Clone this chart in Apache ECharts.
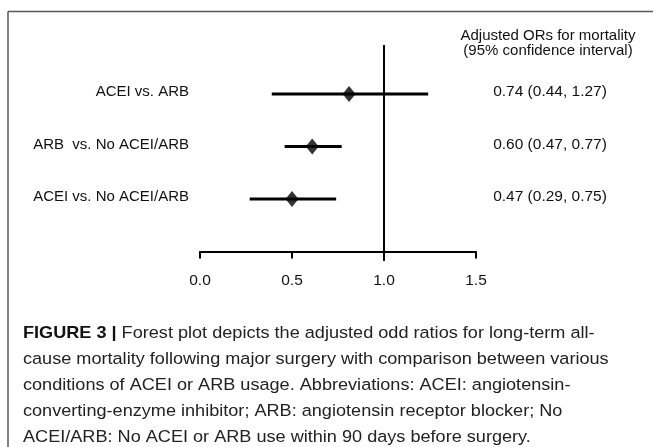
<!DOCTYPE html>
<html>
<head>
<meta charset="utf-8">
<script src="https://cdn.jsdelivr.net/npm/echarts@6/dist/echarts.min.js"></script>
<style>
html,body{margin:0;padding:0;background:#fff;}
#chart{width:653px;height:447px;}
</style>
</head>
<body>
<div id="chart"></div>
<script>
// ---- data ----
var categories = ['ACEI vs. ARB', 'ARB  vs. No ACEI/ARB', 'ACEI vs. No ACEI/ARB'];
var rowPos = [3, 2, 1];
var pointEst = [0.81, 0.61, 0.50];
var ciLow = [0.39, 0.46, 0.27];
var ciHigh = [1.24, 0.77, 0.74];
var orText = ['0.74 (0.44, 1.27)', '0.60 (0.47, 0.77)', '0.47 (0.29, 0.75)'];
var xTicks = [0, 0.5, 1.0, 1.5];
var headerLines = ['Adjusted ORs for mortality', '(95% confidence interval)'];
var captionBold = 'FIGURE 3 | ';
var captionLines = [
  'Forest plot depicts the adjusted odd ratios for long-term all-',
  'cause mortality following major surgery with comparison between various',
  'conditions of ACEI or ARB usage. Abbreviations: ACEI: angiotensin-',
  'converting-enzyme inhibitor; ARB: angiotensin receptor blocker; No',
  'ACEI/ARB: No ACEI or ARB use within 90 days before surgery.'
];

var FONT = '"Liberation Sans", Arial, sans-serif';

var chart = echarts.init(document.getElementById('chart'), null, {renderer: 'canvas'});

var ciData = rowPos.map(function (y, i) { return [ciLow[i], ciHigh[i], y]; });
var ptData = rowPos.map(function (y, i) { return [pointEst[i], y]; });
var labelData = rowPos.map(function (y, i) { return [0, y, i]; });

var graphics = [
  {type: 'line', shape: {x1: 8, y1: 11.5, x2: 653, y2: 11.5}, style: {stroke: '#5a5a5a', lineWidth: 1.5}},
  {type: 'line', shape: {x1: 8, y1: 11.5, x2: 8, y2: 447}, style: {stroke: '#5a5a5a', lineWidth: 1.5}},
  {type: 'text', x: 548, y: 36, style: {text: headerLines[0], font: '15px ' + FONT, fill: '#111', textAlign: 'center', textVerticalAlign: 'middle'}},
  {type: 'text', x: 548, y: 50.5, style: {text: headerLines[1], font: '15px ' + FONT, fill: '#111', textAlign: 'center', textVerticalAlign: 'middle'}}
];
captionLines.forEach(function (line, i) {
  var txt = i === 0 ? '{b|' + captionBold + '}' + line : line;
  graphics.push({
    type: 'text', x: 23, y: 333 + i * 26.2, scaleX: 1.065, scaleY: 0.97,
    style: {
      text: txt, fontFamily: FONT, fontSize: 17, fill: '#222',
      textVerticalAlign: 'middle',
      rich: {b: {fontFamily: FONT, fontSize: 17, fontWeight: 'bold', fill: '#111'}}
    }
  });
});

chart.setOption({
  animation: false,
  backgroundColor: '#fff',
  grid: {left: 200, right: 177, top: 45, bottom: 186, containLabel: false},
  xAxis: {
    type: 'value', min: 0, max: 1.5, interval: 0.5,
    axisLine: {show: true, lineStyle: {color: '#000', width: 2}},
    axisTick: {show: true, inside: false, length: 7, lineStyle: {color: '#000', width: 2}},
    axisLabel: {margin: 12, fontFamily: FONT, fontSize: 15.5, color: '#111',
      formatter: function (v) { return v.toFixed(1); }},
    splitLine: {show: false}
  },
  yAxis: {
    type: 'value', min: -0.18, max: 3.93,
    show: false, splitLine: {show: false}
  },
  graphic: graphics,
  series: [
    {
      type: 'custom',
      renderItem: function (params, api) {
        var a = api.coord([api.value(0), api.value(2)]);
        var b = api.coord([api.value(1), api.value(2)]);
        return {type: 'line', shape: {x1: a[0], y1: a[1], x2: b[0], y2: b[1]},
          style: {stroke: '#000', lineWidth: 3}};
      },
      encode: {x: [0, 1], y: 2},
      data: ciData,
      z: 2
    },
    {
      type: 'scatter',
      symbol: 'diamond',
      symbolSize: [13, 16],
      itemStyle: {color: '#000'},
      data: ptData,
      z: 3,
      markLine: {
        silent: true, symbol: 'none',
        lineStyle: {color: '#000', width: 2, type: 'solid'},
        label: {show: false},
        data: [{xAxis: 1}]
      }
    },
    {
      type: 'custom',
      renderItem: function (params, api) {
        var p = api.coord([api.value(0), api.value(1)]);
        var i = api.value(2);
        return {type: 'group', children: [
          {type: 'text', x: p[0] - 11, y: p[1] - 2,
            style: {text: categories[i], font: '15px ' + FONT, fill: '#111', textAlign: 'right', textVerticalAlign: 'middle'}},
          {type: 'text', x: 550, y: p[1] - 2,
            style: {text: orText[i], font: '15.5px ' + FONT, fill: '#111', textAlign: 'center', textVerticalAlign: 'middle'}}
        ]};
      },
      encode: {x: 0, y: 1},
      data: labelData,
      z: 4
    }
  ]
});
</script>
</body>
</html>
